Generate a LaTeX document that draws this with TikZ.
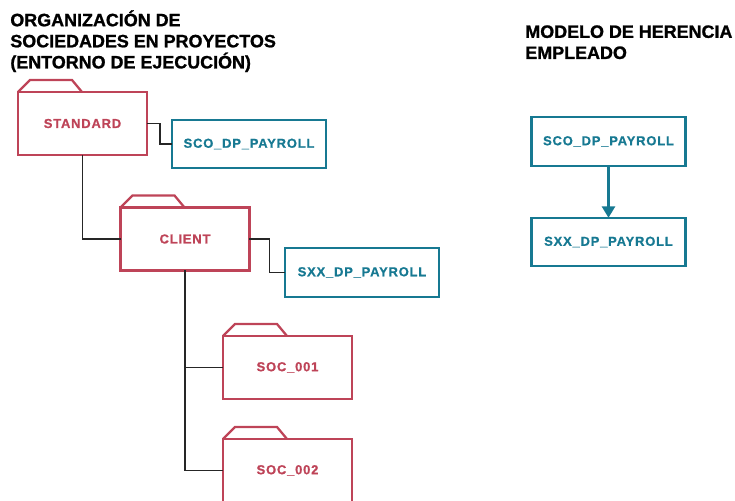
\documentclass[tikz,border=0pt]{standalone}
\usepackage{fontspec}
\setmainfont{Liberation Sans}[BoldFont = Liberation Sans Bold]
\newfontfamily\titlefont{Liberation Sans Bold}[FakeBold = 1.2]
\newfontfamily\labelfont{Liberation Sans Bold}[LetterSpace = 6.0, FakeBold = 0.8]
\usetikzlibrary{arrows.meta}
\definecolor{folderred}{RGB}{190,68,88}
\definecolor{tableteal}{RGB}{23,121,146}

\begin{document}
\begin{tikzpicture}[x = 0.02cm, y = -0.02cm]
\tikzstyle{FolderStyle}=[shape = rectangle, draw = folderred, line width = 1.3pt,
                         outer sep = 0pt,
                         minimum width = 2.58cm, minimum height = 1.26cm,
                         text = folderred,
                         font = \labelfont\fontsize{7.4}{9}\selectfont]
\tikzstyle{TabStyle}=[draw = folderred, line width = 1.3pt]
\tikzstyle{TableStyle}=[shape = rectangle, draw = tableteal, line width = 1.3pt,
                        outer sep = 0pt,
                        minimum width = 3.08cm, minimum height = 0.97cm,
                        text = tableteal,
                        font = \labelfont\fontsize{7.4}{9}\selectfont]
\tikzstyle{LinkStyle}=[draw = black!85, line width = 0.75pt]
\tikzstyle{TitleStyle}=[anchor = north west, inner sep = 0pt, align = left,
                        font = \titlefont\fontsize{10.2}{12}\selectfont]

\useasboundingbox (0,0) rectangle (735,501);
\clip (0,0) rectangle (735,501);

% titles
\node[TitleStyle] (orgtitle) at (10,10) {ORGANIZACIÓN DE\\SOCIEDADES EN PROYECTOS\\(ENTORNO DE EJECUCIÓN)};
\node[TitleStyle] (modeltitle) at (525,25) {MODELO DE HERENCIA\\EMPLEADO};

% company folders
\node[FolderStyle] (standard) at (82.5,123.5) {STANDARD};
\node[FolderStyle] (client) at (185,239) {CLIENT};
\node[FolderStyle] (soc1) at (287.5,367.5) {SOC\_001};
\node[FolderStyle] (soc2) at (287.5,470.5) {SOC\_002};
\foreach \f in {standard, client, soc1, soc2}
  \draw[TabStyle] (\f.north west) -- ++(12,-12) -- ++(42,0) -- ++(10,12);

% payroll tables
\node[TableStyle] (sco) at (249,144) {SCO\_DP\_PAYROLL};
\node[TableStyle] (sxx) at (362,272.5) {SXX\_DP\_PAYROLL};
\node[TableStyle] (scoB) at (608.5,141.5) {SCO\_DP\_PAYROLL};
\node[TableStyle] (sxxB) at (608.5,242) {SXX\_DP\_PAYROLL};

% tree links
\draw[LinkStyle] (standard.east) -- ++(13,0) |- (sco.west);
\draw[LinkStyle] (standard.south) |- (client.west);
\draw[LinkStyle] (client.east) -- ++(20,0) |- (sxx.west);
\draw[LinkStyle] (client.south) |- (soc1.west);
\draw[LinkStyle] (client.south) |- (soc2.west);

% inheritance
\draw[draw = tableteal, line width = 1.3pt, -{Triangle[length = 6.5pt, width = 7.5pt]}] (scoB.south) -- (sxxB.north);
\end{tikzpicture}
\end{document}
